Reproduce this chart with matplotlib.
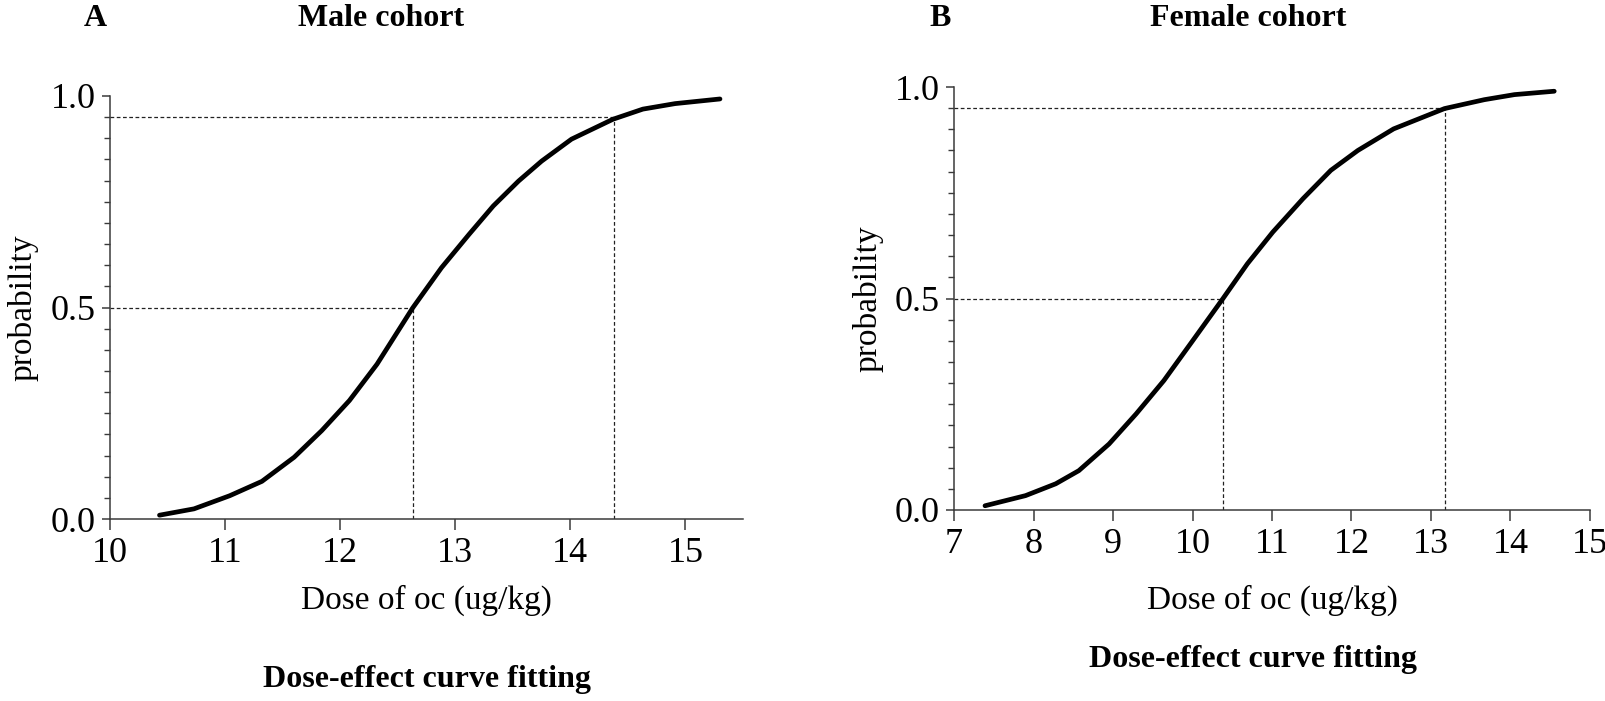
import matplotlib
matplotlib.use("Agg")
import matplotlib.pyplot as plt
from matplotlib.ticker import MultipleLocator

plt.rcParams["font.family"] = ["Liberation Serif", "DejaVu Serif"]

# values
male_dose = [10.43, 10.73, 11.04, 11.32, 11.60, 11.84, 12.08, 12.32, 12.63, 12.88,
             13.12, 13.33, 13.55, 13.75, 14.01, 14.37, 14.63, 14.91, 15.30]
male_prob = [0.009, 0.024, 0.055, 0.089, 0.146, 0.209, 0.280, 0.366, 0.499, 0.594,
             0.673, 0.740, 0.799, 0.846, 0.898, 0.945, 0.969, 0.982, 0.993]
male_marks = [(12.63, 0.5), (14.38, 0.95)]

female_dose = [7.39, 7.90, 8.28, 8.57, 8.95, 9.29, 9.64, 9.99, 10.38, 10.69,
               11.01, 11.39, 11.74, 12.08, 12.53, 13.17, 13.67, 14.05, 14.55]
female_prob = [0.010, 0.034, 0.062, 0.093, 0.156, 0.227, 0.306, 0.397, 0.499, 0.582,
               0.657, 0.736, 0.803, 0.850, 0.901, 0.949, 0.970, 0.982, 0.990]
female_marks = [(10.38, 0.5), (13.17, 0.95)]

W, H = 1606, 701
fig = plt.figure(figsize=(W / 100, H / 100), dpi=100)

panels = [
    # axes rect in pixels: left, right, top(1.0), bottom(0.0)
    dict(rect=(110, 743, 96, 519), x=male_dose, y=male_prob, marks=male_marks,
         xlim=(10, 15.5), xticks=range(10, 16), ylab_x=23, xlab_y=600,
         letter="A", letter_x=95, title="Male cohort", title_x=381,
         foot_y=680, foot_x=427),
    dict(rect=(954, 1590, 87, 510), x=female_dose, y=female_prob, marks=female_marks,
         xlim=(7, 15), xticks=range(7, 16), ylab_x=868, xlab_y=600,
         letter="B", letter_x=940, title="Female cohort", title_x=1248,
         foot_y=660, foot_x=1253),
]

spine_c = "#3a3a3a"
for p in panels:
    l, r, t, b = p["rect"]
    ax = fig.add_axes([l / W, 1 - b / H, (r - l) / W, (b - t) / H])
    ax.plot(p["x"], p["y"], color="black", lw=3.4, solid_capstyle="round",
            solid_joinstyle="round", zorder=3)
    x0 = p["xlim"][0]
    for mx, my in p["marks"]:
        ax.plot([x0, mx], [my, my], color="#222222", lw=0.9, dashes=(3, 2), zorder=2)
        ax.plot([mx, mx], [0, my], color="#222222", lw=0.9, dashes=(3, 2), zorder=2)

    ax.set_xlim(*p["xlim"])
    ax.set_ylim(0, 1)
    ax.set_xticks(list(p["xticks"]))
    ax.set_yticks([0, 0.5, 1.0])
    ax.set_yticklabels(["0.0", "0.5", "1.0"])
    ax.yaxis.set_minor_locator(MultipleLocator(0.05))
    for s in ["top", "right"]:
        ax.spines[s].set_visible(False)
    for s in ["left", "bottom"]:
        ax.spines[s].set_linewidth(1.1)
        ax.spines[s].set_color(spine_c)
    ax.tick_params(axis="x", length=8, width=1.1, color=spine_c, labelsize=26, pad=5)
    ax.tick_params(axis="y", which="major", length=6, width=1.1, color=spine_c,
                   labelsize=26, pad=4)
    ax.tick_params(axis="y", which="minor", length=4, width=1.0, color=spine_c)

    ax.set_ylabel("probability", fontsize=24)
    ax.yaxis.set_label_coords((p["ylab_x"] - l) / (r - l), 0.5)
    ax.yaxis.label.set_va("center")
    ax.set_xlabel("Dose of oc (ug/kg)", fontsize=24)
    ax.xaxis.set_label_coords(0.5, (b - p["xlab_y"]) / (b - t))
    ax.xaxis.label.set_va("center")

    fig.text(p["letter_x"] / W, 1 - 18 / H, p["letter"], fontsize=23,
             fontweight="bold", ha="center", va="center")
    fig.text(p["title_x"] / W, 1 - 18 / H, p["title"], fontsize=23,
             fontweight="bold", ha="center", va="center")
    fig.text(p["foot_x"] / W, 1 - p["foot_y"] / H, "Dose-effect curve fitting",
             fontsize=23, fontweight="bold", ha="center", va="center")

fig.savefig("out.png", dpi=100)
